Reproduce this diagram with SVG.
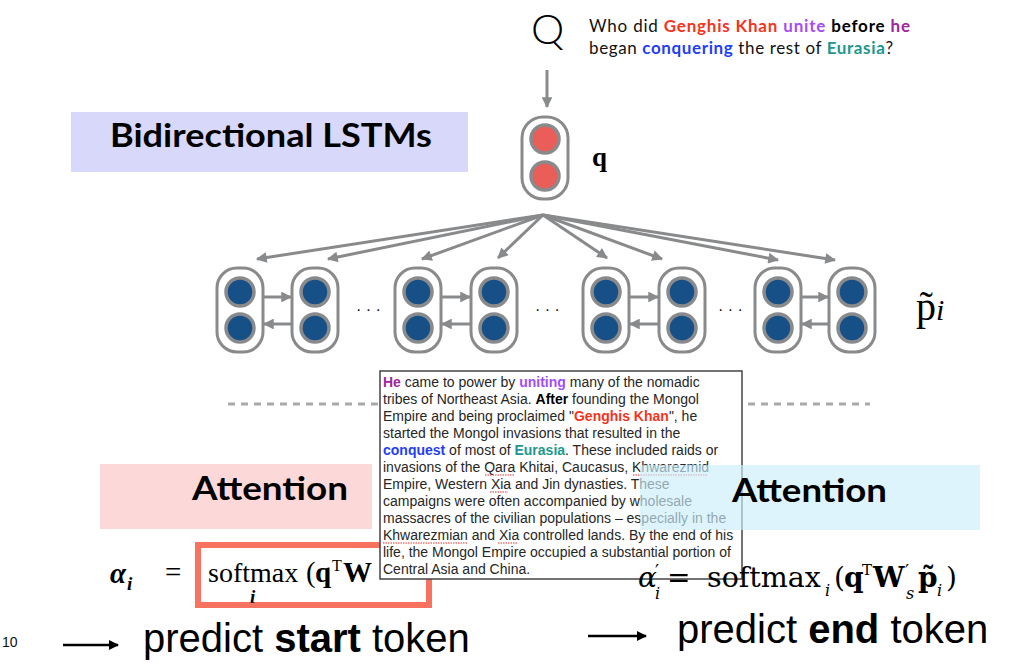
<svg xmlns="http://www.w3.org/2000/svg" width="1011" height="669" viewBox="0 0 1011 669">
<style>
.conn{stroke:#898a8c;stroke-width:3;fill:none}
.cell{fill:#fff;stroke:#898a8c;stroke-width:3}
.hb{fill:#174f87;stroke:#898a8c;stroke-width:3.5}
.hr{fill:#ea5d58;stroke:#898a8c;stroke-width:3.5}
.lbl{font-family:Lato,"Open Sans","Liberation Sans",sans-serif;font-weight:bold;fill:#000}
.qt{font-family:Lato,"Open Sans","Liberation Sans",sans-serif;font-size:17px;fill:#111}
.b{font-weight:bold}
.para{font-family:"Liberation Sans",Arial,sans-serif;font-size:14px;fill:#262626}
.serif{font-family:"Liberation Serif","Times New Roman",serif}
.dj{font-family:"DejaVu Serif","Liberation Serif",serif}
.big{font-family:"Liberation Sans",Arial,sans-serif;font-size:40px;fill:#000}
.sq{stroke:#e0302a;stroke-width:1;stroke-dasharray:1.5 1;fill:none}
</style>
<defs>
<marker id="ah" viewBox="0 0 10 10" refX="9" refY="5" markerWidth="4" markerHeight="3.6" orient="auto"><path d="M0,0 L10,5 L0,10 z" fill="#898a8c"/></marker>
<marker id="ahk" viewBox="0 0 10 10" refX="9" refY="5" markerWidth="4" markerHeight="4" orient="auto"><path d="M0,0 L10,5 L0,10 z" fill="#000"/></marker>
</defs>
<rect width="1011" height="669" fill="#fff"/>

<g id="bilstm-label">
<rect x="71" y="112" width="397" height="60" fill="#d7d8fa"/>
<text class="lbl" x="110" y="147" font-size="33" textLength="322" lengthAdjust="spacingAndGlyphs">Bidirectional LSTMs</text>
</g>

<g id="question">
<text x="531" y="44" font-family="Lato,'Open Sans',sans-serif" font-weight="300" font-size="42" fill="#000">Q</text>
<text class="qt" x="589" y="32" textLength="321" lengthAdjust="spacing">Who did <tspan class="b" fill="#f4341c">Genghis Khan</tspan> <tspan class="b" fill="#a34df4">unite</tspan> <tspan class="b" fill="#000">before</tspan> <tspan class="b" fill="#a0259f">he</tspan></text>
<text class="qt" x="589" y="54" textLength="304" lengthAdjust="spacing">began <tspan class="b" fill="#1f3ef5">conquering</tspan> the rest of <tspan class="b" fill="#21978f">Eurasia</tspan>?</text>
</g>

<g id="q-node">
<rect class="cell" x="522" y="117" width="46" height="82" rx="21"/>
<circle class="hr" cx="545" cy="139" r="14"/>
<circle class="hr" cx="545" cy="176" r="14"/>
<text class="serif" x="592" y="166" font-size="27" font-weight="bold">q</text>
</g>

<g id="p-cells">
<g id="cell1"><rect class="cell" x="217" y="268" width="46" height="84" rx="20"/><circle class="hb" cx="240" cy="292" r="14"/><circle class="hb" cx="240" cy="328" r="14"/></g>
<g id="cell2"><rect class="cell" x="292" y="268" width="46" height="84" rx="20"/><circle class="hb" cx="315" cy="292" r="14"/><circle class="hb" cx="315" cy="328" r="14"/></g>
<g id="cell3"><rect class="cell" x="395" y="268" width="46" height="84" rx="20"/><circle class="hb" cx="418" cy="292" r="14"/><circle class="hb" cx="418" cy="328" r="14"/></g>
<g id="cell4"><rect class="cell" x="471" y="268" width="46" height="84" rx="20"/><circle class="hb" cx="494" cy="292" r="14"/><circle class="hb" cx="494" cy="328" r="14"/></g>
<g id="cell5"><rect class="cell" x="583" y="268" width="46" height="84" rx="20"/><circle class="hb" cx="606" cy="292" r="14"/><circle class="hb" cx="606" cy="328" r="14"/></g>
<g id="cell6"><rect class="cell" x="659" y="268" width="46" height="84" rx="20"/><circle class="hb" cx="682" cy="292" r="14"/><circle class="hb" cx="682" cy="328" r="14"/></g>
<g id="cell7"><rect class="cell" x="755" y="268" width="46" height="84" rx="20"/><circle class="hb" cx="778" cy="292" r="14"/><circle class="hb" cx="778" cy="328" r="14"/></g>
<g id="cell8"><rect class="cell" x="829" y="268" width="46" height="84" rx="20"/><circle class="hb" cx="852" cy="292" r="14"/><circle class="hb" cx="852" cy="328" r="14"/></g>
<g font-family="'Liberation Sans',sans-serif" font-size="16" fill="#111">
<text x="356" y="315">· · ·</text>
<text x="535" y="315">· · ·</text>
<text x="718" y="315">· · ·</text>
</g>
<text class="serif" x="916" y="320" font-size="40">p̃<tspan font-style="italic" font-size="30">i</tspan></text>
</g>

<g id="connectors">
<line class="conn" x1="547" y1="70" x2="547" y2="107" marker-end="url(#ah)"/>
<line class="conn" x1="543" y1="215" x2="257" y2="259" marker-end="url(#ah)"/>
<line class="conn" x1="543" y1="215" x2="328" y2="259" marker-end="url(#ah)"/>
<line class="conn" x1="543" y1="215" x2="422" y2="259" marker-end="url(#ah)"/>
<line class="conn" x1="543" y1="215" x2="498" y2="258" marker-end="url(#ah)"/>
<line class="conn" x1="543" y1="215" x2="607" y2="258" marker-end="url(#ah)"/>
<line class="conn" x1="543" y1="215" x2="662" y2="259" marker-end="url(#ah)"/>
<line class="conn" x1="543" y1="215" x2="778" y2="260" marker-end="url(#ah)"/>
<line class="conn" x1="543" y1="215" x2="835" y2="260" marker-end="url(#ah)"/>
<line class="conn" x1="263" y1="297" x2="291" y2="297" marker-end="url(#ah)"/>
<line class="conn" x1="292" y1="324" x2="264" y2="324" marker-end="url(#ah)"/>
<line class="conn" x1="441" y1="297" x2="470" y2="297" marker-end="url(#ah)"/>
<line class="conn" x1="471" y1="324" x2="442" y2="324" marker-end="url(#ah)"/>
<line class="conn" x1="629" y1="297" x2="658" y2="297" marker-end="url(#ah)"/>
<line class="conn" x1="659" y1="324" x2="630" y2="324" marker-end="url(#ah)"/>
<line class="conn" x1="801" y1="297" x2="828" y2="297" marker-end="url(#ah)"/>
<line class="conn" x1="829" y1="324" x2="802" y2="324" marker-end="url(#ah)"/>
<line x1="63" y1="645" x2="118" y2="645" stroke="#000" stroke-width="2.5" marker-end="url(#ahk)"/>
<line x1="588" y1="636" x2="646" y2="636" stroke="#000" stroke-width="2.5" marker-end="url(#ahk)"/>
</g>

<g id="divider">
<line x1="228" y1="404" x2="378" y2="404" stroke="#a9a9a9" stroke-width="3" stroke-dasharray="7 6"/>
<line x1="748" y1="404" x2="870" y2="404" stroke="#a9a9a9" stroke-width="3" stroke-dasharray="7 6"/>
</g>

<g id="attention-start">
<rect x="100" y="464" width="272" height="65" fill="#fdd8d8"/>
<text class="lbl" x="192" y="500" font-size="33" textLength="156" lengthAdjust="spacingAndGlyphs">Attention</text>
</g>

<g id="formula-start">
<rect x="198" y="545" width="231" height="60" fill="none" stroke="#f7735f" stroke-width="6"/>
<text class="serif" font-size="29" fill="#000">
<tspan x="110" y="583" font-weight="bold" font-style="italic">α</tspan><tspan x="127" y="590" font-size="19" font-weight="bold" font-style="italic">i</tspan>
<tspan x="165" y="582">=</tspan>
<tspan x="208" y="582" font-size="28">softmax</tspan>
<tspan x="250" y="603" font-size="19" font-weight="bold" font-style="italic">i</tspan>
<tspan x="306" y="582">(</tspan><tspan x="315" y="582" font-weight="bold">q</tspan><tspan x="332" y="571" font-size="16">T</tspan><tspan x="343" y="582" font-weight="bold">W</tspan>
</text>
</g>

<g id="passage">
<rect x="380" y="371" width="362" height="208" fill="#fff" stroke="#444" stroke-width="1.5"/>
<text class="para">
<tspan x="383" y="387"><tspan class="b" fill="#a0259f">He</tspan> came to power by <tspan class="b" fill="#a34df4">uniting</tspan> many of the nomadic</tspan>
<tspan x="383" y="404">tribes of Northeast Asia. <tspan class="b" fill="#000">After</tspan> founding the Mongol</tspan>
<tspan x="383" y="421">Empire and being proclaimed "<tspan class="b" fill="#f4341c">Genghis Khan</tspan>", he</tspan>
<tspan x="383" y="438">started the Mongol invasions that resulted in the</tspan>
<tspan x="383" y="455"><tspan class="b" fill="#1f3ef5">conquest</tspan> of most of <tspan class="b" fill="#21978f">Eurasia</tspan>. These included raids or</tspan>
<tspan x="383" y="472">invasions of the Qara Khitai, Caucasus, Khwarezmid</tspan>
<tspan x="383" y="489">Empire, Western Xia and Jin dynasties. These</tspan>
<tspan x="383" y="506">campaigns were often accompanied by wholesale</tspan>
<tspan x="383" y="523">massacres of the civilian populations – especially in the</tspan>
<tspan x="383" y="540">Khwarezmian and Xia controlled lands. By the end of his</tspan>
<tspan x="383" y="557">life, the Mongol Empire occupied a substantial portion of</tspan>
<tspan x="383" y="574">Central Asia and China.</tspan>
</text>
<line class="sq" x1="485" y1="475" x2="515" y2="475"/>
<line class="sq" x1="633" y1="475" x2="708" y2="475"/>
<line class="sq" x1="490" y1="492" x2="508" y2="492"/>
<line class="sq" x1="383" y1="543" x2="467" y2="543"/>
<line class="sq" x1="498" y1="543" x2="518" y2="543"/>
</g>

<g id="attention-end">
<rect x="640" y="465" width="340" height="65" fill="#cdeefb" fill-opacity="0.65"/>
<text class="lbl" x="732" y="502" font-size="33" textLength="155" lengthAdjust="spacingAndGlyphs">Attention</text>
</g>

<g id="formula-end">
<text class="dj" font-size="28" fill="#000">
<tspan x="638" y="587" font-style="italic">α</tspan><tspan x="655" y="578" font-size="18">′</tspan><tspan x="655" y="599" font-size="16" font-style="italic">i</tspan>
<tspan x="667" y="587">=</tspan>
<tspan x="707" y="587" font-size="28.5">softmax</tspan><tspan x="825" y="596" font-size="16" font-style="italic">i</tspan>
<tspan x="834" y="587">(</tspan><tspan x="844" y="587" font-weight="bold">q</tspan><tspan x="862" y="575" font-size="15">T</tspan><tspan x="873" y="587" font-weight="bold">W</tspan><tspan x="905" y="578" font-size="18">′</tspan><tspan x="906" y="599" font-size="16" font-style="italic">s</tspan><tspan x="918" y="587" font-weight="bold">p̃</tspan><tspan x="937" y="596" font-size="16" font-style="italic">i</tspan><tspan x="946" y="587">)</tspan>
</text>
</g>

<g id="footer">
<text x="2" y="647" font-family="'Liberation Sans',sans-serif" font-size="14" fill="#111">10</text>
<text class="big" x="143" y="652">predict <tspan class="b">start</tspan> token</text>
<text class="big" x="677" y="643">predict <tspan class="b">end</tspan> token</text>
</g>
</svg>
